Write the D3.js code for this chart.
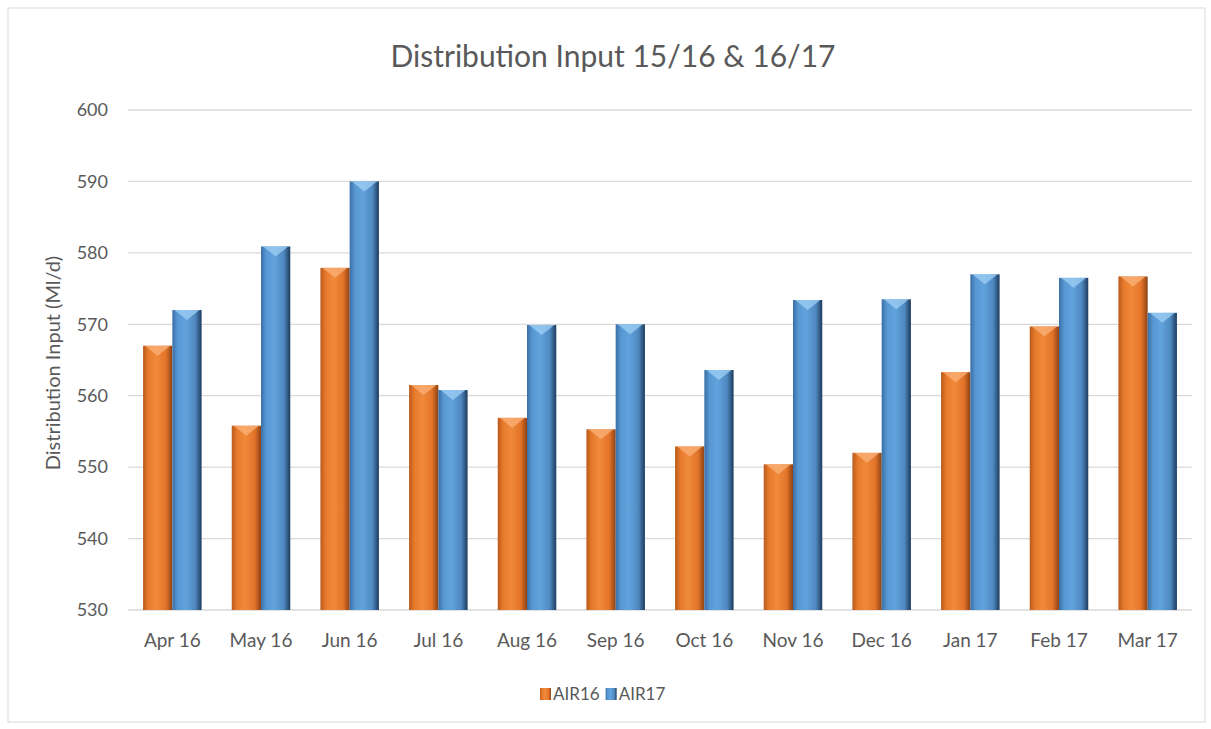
<!DOCTYPE html>
<html>
<head>
<meta charset="utf-8">
<script src="https://cdn.jsdelivr.net/npm/d3@7"></script>
<style>
  body { margin: 0; background: #fff; }
  text { font-family: Lato, "Open Sans", sans-serif; fill: #595959; }
</style>
</head>
<body>
<div class="chart-cont"></div>
<script>
var months = ["Apr 16", "May 16", "Jun 16", "Jul 16", "Aug 16", "Sep 16",
              "Oct 16", "Nov 16", "Dec 16", "Jan 17", "Feb 17", "Mar 17"];
var air16 = [567.0, 555.8, 577.9, 561.5, 556.9, 555.3, 552.9, 550.4, 552.0, 563.3, 569.7, 576.7];
var air17 = [572.0, 580.9, 590.0, 560.8, 569.9, 570.0, 563.6, 573.4, 573.5, 577.0, 576.5, 571.6];
var seriesNames = ["AIR16", "AIR17"];
var yTicks = [530, 540, 550, 560, 570, 580, 590, 600];

var w = 1211, h = 729;
var plotLeft = 128, plotRight = 1192, plotTop = 110, plotBottom = 610;

var svg = d3.select(".chart-cont").append("svg")
    .attr("width", w)
    .attr("height", h);

// bar shading, a lit cylinder look
var defs = svg.append("defs");
var shades = {
    AIR16: {id: "gOrange", stops: ["#b95a1c", "#e77a2c", "#f08a3a", "#e3742a", "#8e4212"], cap: "#fbb27a"},
    AIR17: {id: "gBlue", stops: ["#3b6fa6", "#5797d2", "#62a3dd", "#4f88c0", "#1d3c5e"], cap: "#9fd0f5"}
};
Object.keys(shades).forEach(function(k) {
    var g = defs.append("linearGradient").attr("id", shades[k].id)
        .attr("x1", "0%").attr("x2", "100%").attr("y1", "0%").attr("y2", "0%");
    var offs = [0, 0.18, 0.45, 0.78, 1];
    shades[k].stops.forEach(function(c, i) {
        g.append("stop").attr("offset", offs[i]).attr("stop-color", c);
    });
});

svg.append("rect")
    .attr("x", 8).attr("y", 8)
    .attr("width", 1197).attr("height", 714)
    .attr("fill", "#fff")
    .attr("stroke", "#d9d9d9");

var x0 = d3.scaleBand().domain(months).range([plotLeft, plotRight]).paddingInner(0.34).paddingOuter(0.17);
var x1 = d3.scaleBand().domain(seriesNames).range([0, x0.bandwidth()]);
var y = d3.scaleLinear().domain([530, 600]).range([plotBottom, plotTop]);

// gridlines
svg.append("g")
    .selectAll("line")
    .data(yTicks)
    .enter().append("line")
    .attr("x1", plotLeft).attr("x2", plotRight)
    .attr("y1", function(d) { return y(d); })
    .attr("y2", function(d) { return y(d); })
    .attr("stroke", "#d9d9d9")
    .attr("stroke-width", 1.3);

var yAxis = svg.append("g")
    .attr("transform", "translate(" + (plotLeft - 20) + ",0)")
    .call(d3.axisLeft(y).tickValues(yTicks).tickSize(0).tickPadding(0));
yAxis.select(".domain").remove();
yAxis.selectAll("text").style("font-size", "18px").style("fill", "#595959");

var xAxis = svg.append("g")
    .attr("transform", "translate(0," + plotBottom + ")")
    .call(d3.axisBottom(x0).tickSize(0).tickPadding(24));
xAxis.select(".domain").remove();
xAxis.selectAll("text").style("font-size", "19px").style("fill", "#595959");

var rows = months.map(function(m, i) {
    return [{month: m, key: "AIR16", value: air16[i]}, {month: m, key: "AIR17", value: air17[i]}];
});

var bars = svg.append("g").selectAll("g")
    .data(rows)
    .enter().append("g")
    .attr("transform", function(d) { return "translate(" + x0(d[0].month) + ",0)"; })
    .selectAll("g")
    .data(function(d) { return d; })
    .enter().append("g");

bars.append("rect")
    .attr("x", function(d) { return x1(d.key); })
    .attr("y", function(d) { return y(d.value); })
    .attr("width", x1.bandwidth())
    .attr("height", function(d) { return y(530) - y(d.value); })
    .attr("fill", function(d) { return "url(#" + shades[d.key].id + ")"; });

// bevel on the top of each bar
bars.append("path")
    .attr("d", function(d) {
        var bx = x1(d.key), bw = x1.bandwidth(), by = y(d.value);
        return "M" + (bx + 2) + "," + by + "L" + (bx + bw - 2) + "," + by +
            "L" + (bx + bw / 2) + "," + (by + 10) + "Z";
    })
    .attr("fill", function(d) { return shades[d.key].cap; })
    .style("opacity", 0.75);

svg.append("text")
    .attr("x", 613).attr("y", 67)
    .attr("text-anchor", "middle")
    .style("font-size", "30px")
    .text("Distribution Input 15/16 & 16/17");

svg.append("text")
    .attr("transform", "translate(60,363)rotate(-90)")
    .attr("text-anchor", "middle")
    .style("font-size", "20px")
    .text("Distribution Input (Ml/d)");

var legend = svg.append("g").attr("transform", "translate(540,694)");
var lx = 0;
seriesNames.forEach(function(s) {
    legend.append("rect")
        .attr("x", lx).attr("y", -6)
        .attr("width", 11).attr("height", 12)
        .attr("fill", "url(#" + shades[s].id + ")");
    var t = legend.append("text")
        .attr("x", lx + 13).attr("y", 6)
        .style("font-size", "17px")
        .text(s);
    lx += 13 + t.node().getComputedTextLength() + 6;
});
</script>
</body>
</html>
